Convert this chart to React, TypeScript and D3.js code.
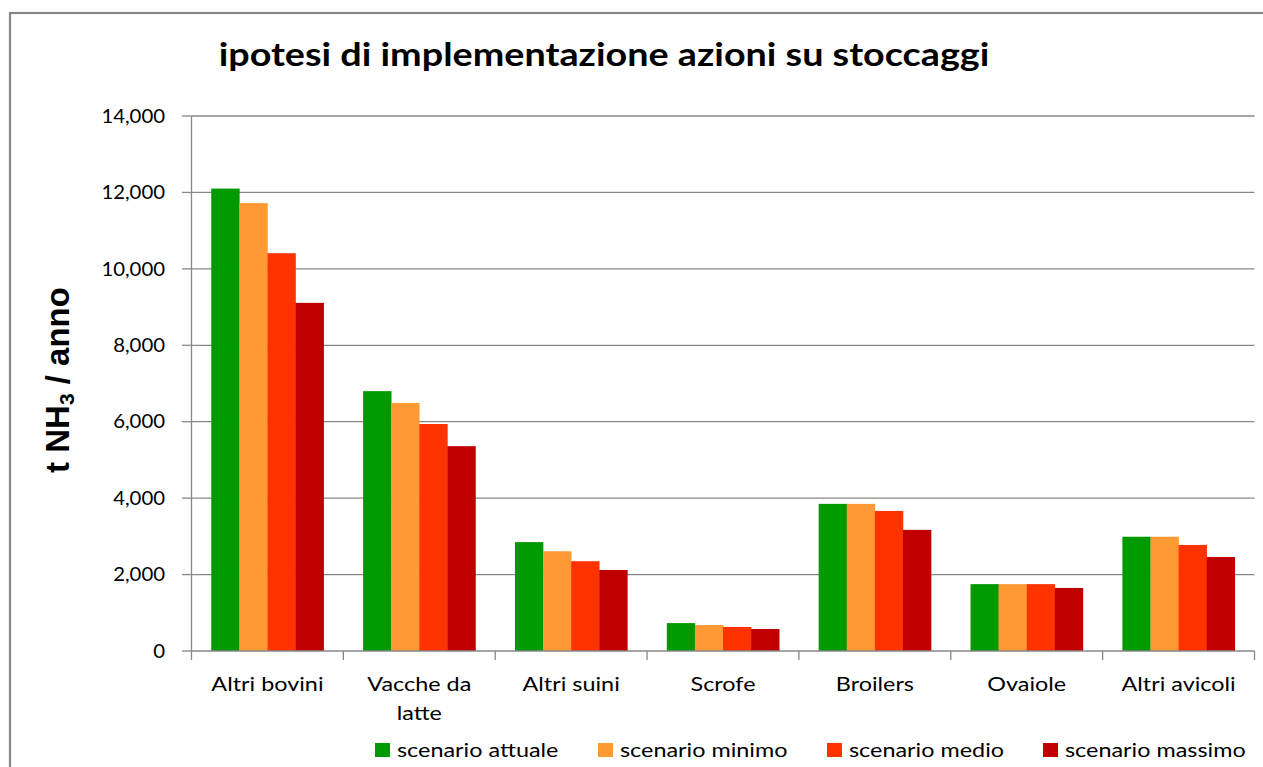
import React from "react";
import * as d3 from "d3";

const categories = ["Altri bovini", "Vacche da latte", "Altri suini", "Scrofe", "Broilers", "Ovaiole", "Altri avicoli"];
const categoryLines = [["Altri bovini"], ["Vacche da", "latte"], ["Altri suini"], ["Scrofe"], ["Broilers"], ["Ovaiole"], ["Altri avicoli"]];
const seriesNames = ["scenario attuale", "scenario minimo", "scenario medio", "scenario massimo"];
const seriesColors = ["#009900", "#FF9933", "#FF3300", "#C00000"];
const attuale = [12100, 6800, 2850, 730, 3850, 1750, 2990];
const minimo = [11720, 6490, 2610, 680, 3850, 1750, 2990];
const medio = [10410, 5940, 2350, 630, 3665, 1750, 2775];
const massimo = [9110, 5360, 2120, 575, 3170, 1650, 2460];
const seriesValues = [attuale, minimo, medio, massimo];
const yTicks = [0, 2000, 4000, 6000, 8000, 10000, 12000, 14000];

const W = 1263;
const H = 767;
const FONT = "Lato, 'Open Sans', sans-serif";

function SText(props: { x: number; y: number; sx: number; anchor?: string; size: number; weight?: string; dy?: string; children: any }) {
  const { x, y, sx, anchor, size, weight, dy, children } = props;
  return (
    <text
      transform={`translate(${x},${y}) scale(${sx},1)`}
      textAnchor={anchor || "start"}
      fontSize={size}
      fontWeight={weight || "normal"}
      dy={dy}
      fill="#000"
    >
      {children}
    </text>
  );
}

export default function App() {
  const left = 191.5;
  const right = 1254.5;
  const top = 116;
  const bottom = 651;
  const y = d3.scaleLinear().domain([0, 14000]).range([bottom, top]);
  const x0 = d3.scaleBand<string>().domain(categories).range([left, right]).paddingInner(0).paddingOuter(0);
  const bw = x0.bandwidth();
  const gap = 0.26;
  const x1 = d3.scaleBand<number>().domain([0, 1, 2, 3]).range([bw * gap / 2, bw * (1 - gap / 2)]).padding(0);
  const fmt = d3.format(",");
  const grid = "#878787";

  const legendX = [375, 598, 827, 1043];

  return (
    <svg width={W} height={H} style={{ position: "absolute", left: 0, top: 0, background: "#fff" }} fontFamily={FONT}>
      <rect x={10} y={13} width={W + 20} height={H + 20} fill="#fff" stroke={grid} strokeWidth={2.2} />
      <SText x={604} y={66} sx={1.144} anchor="middle" size={33} weight="bold">
        ipotesi di implementazione azioni su stoccaggi
      </SText>
      {yTicks.map((t) => (
        <g key={t}>
          {t > 0 && <line x1={left} x2={right} y1={y(t)} y2={y(t)} stroke={grid} strokeWidth={1.3} />}
          <line x1={182} x2={left} y1={y(t)} y2={y(t)} stroke={grid} strokeWidth={1.3} />
          <SText x={165} y={y(t)} sx={1.1} anchor="end" size={18.5} dy="0.36em">
            {fmt(t)}
          </SText>
        </g>
      ))}
      <line x1={left} x2={left} y1={top} y2={bottom} stroke={grid} strokeWidth={1.3} />
      {categories.map((c, i) => (
        <g key={c} transform={`translate(${x0(c)},0)`}>
          {seriesValues.map((vals, s) => (
            <rect key={s} x={x1(s)} y={y(vals[i])} width={x1.bandwidth() + 0.3} height={bottom - y(vals[i])} fill={seriesColors[s]} />
          ))}
          {categoryLines[i].map((ln, k) => (
            <SText key={k} x={bw / 2} y={691 + k * 29} sx={1.17} anchor="middle" size={20}>
              {ln}
            </SText>
          ))}
        </g>
      ))}
      <line x1={left} x2={right} y1={bottom} y2={bottom} stroke={grid} strokeWidth={1.3} />
      {d3.range(categories.length + 1).map((k) => (
        <line key={k} x1={left + k * bw} x2={left + k * bw} y1={bottom} y2={660} stroke={grid} strokeWidth={1.3} />
      ))}
      <text
        transform="translate(69,380) rotate(-90)"
        textAnchor="middle"
        fontSize={33}
        fontWeight="bold"
        fontFamily="'Liberation Sans', Arial, sans-serif"
        fill="#000"
      >
        t NH<tspan fontSize={21} dy="5">3</tspan>
        <tspan dy="-5"> / anno</tspan>
      </text>
      {seriesNames.map((n, s) => (
        <g key={n} transform={`translate(${legendX[s]},743)`}>
          <rect x={0} y={0} width={15} height={14} fill={seriesColors[s]} />
          <SText x={22} y={14} sx={1.17} size={20}>
            {n}
          </SText>
        </g>
      ))}
    </svg>
  );
}
